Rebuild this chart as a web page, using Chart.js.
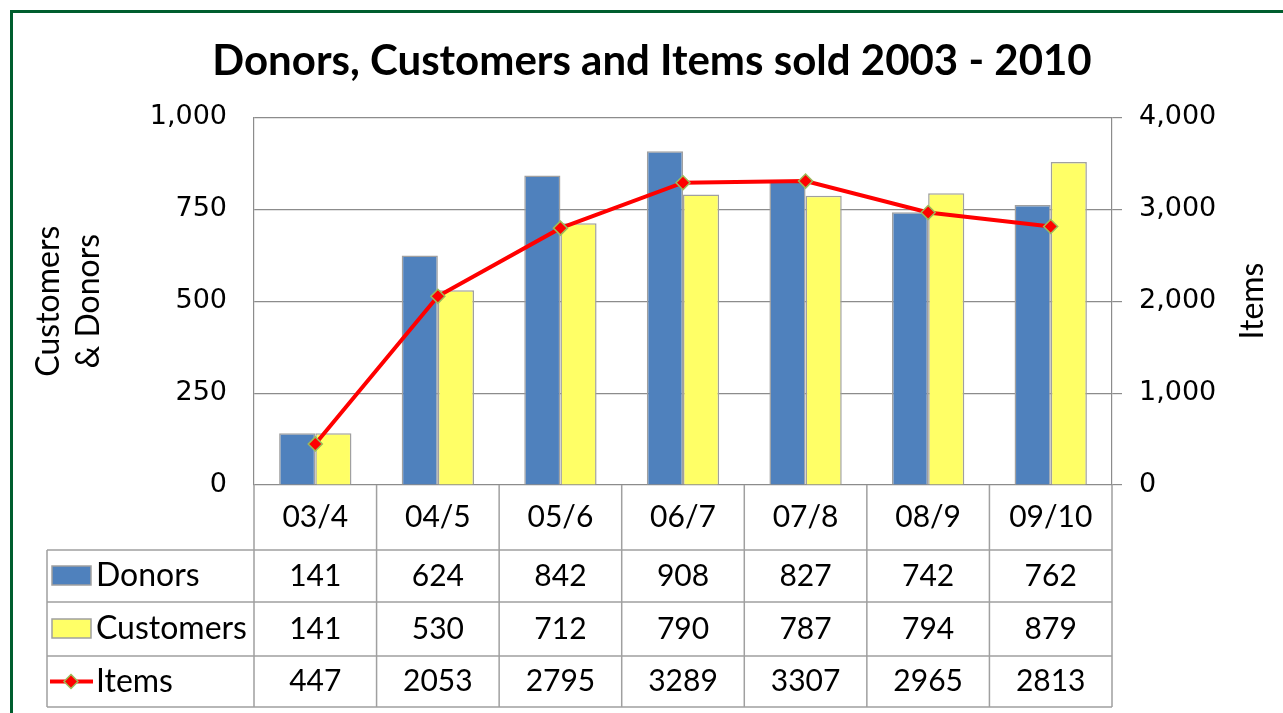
<!DOCTYPE html>
<html>
<head>
<meta charset="utf-8">
<script src="https://cdn.jsdelivr.net/npm/chart.js@4.4.1/dist/chart.umd.min.js"></script>
<style>
  html, body { margin: 0; padding: 0; background: #fff; }
  canvas { display: block; }
</style>
</head>
<body>
<canvas id="myChart" width="1283" height="713"></canvas>
<script>
// data
var categories = ['03/4', '04/5', '05/6', '06/7', '07/8', '08/9', '09/10'];
var donors = [141, 624, 842, 908, 827, 742, 762];
var customers = [141, 530, 712, 790, 787, 794, 879];
var items = [447, 2053, 2795, 3289, 3307, 2965, 2813];
var leftTicks = [0, 250, 500, 750, 1000];
var rightTicks = [0, 1000, 2000, 3000, 4000];

(()=>{
  var blue = '#4f81bd';
  var yellow = '#ffff66';
  var red = '#ff0000';
  var olive = '#9bbb59';
  var gridColor = '#8c8c8c';
  var tableColor = '#a0a0a0';
  var textFont = 'Lato, "Noto Sans", sans-serif';

  // table under the plot (data table + legend keys)
  var tablePlugin = {
    id: 'dataTable',
    beforeDraw: function(chart) {
      var ctx = chart.ctx;
      ctx.save();
      ctx.fillStyle = '#fff';
      ctx.fillRect(0, 0, chart.width, chart.height);
      ctx.strokeStyle = '#005e2e';
      ctx.lineWidth = 3;
      ctx.strokeRect(11.5, 11.5, chart.width + 20, chart.height + 20);
      ctx.restore();
    },
    afterDraw: function(chart) {
      var ctx = chart.ctx;
      var area = chart.chartArea;
      var xs = chart.scales.x;
      var n = categories.length;
      var colW = (area.right - area.left) / n;
      var edges = [area.bottom, 550, 602, 656, 707];
      var tableLeft = 47;
      var rows = [
        { name: 'Donors', values: donors, key: 'bar', color: blue },
        { name: 'Customers', values: customers, key: 'bar', color: yellow },
        { name: 'Items', values: items, key: 'line', color: red }
      ];

      ctx.save();
      ctx.strokeStyle = tableColor;
      ctx.lineWidth = 1.5;
      ctx.beginPath();
      // horizontal lines
      for (var r = 1; r < edges.length; r++) {
        ctx.moveTo(tableLeft, edges[r]);
        ctx.lineTo(area.right, edges[r]);
      }
      // vertical lines
      for (var i = 0; i <= n; i++) {
        var vx = i < n ? xs.getPixelForValue(i) - colW / 2 : xs.getPixelForValue(n - 1) + colW / 2;
        ctx.moveTo(vx, edges[0]);
        ctx.lineTo(vx, edges[edges.length - 1]);
      }
      ctx.moveTo(tableLeft, edges[1]);
      ctx.lineTo(tableLeft, edges[edges.length - 1]);
      ctx.stroke();

      ctx.fillStyle = '#000';
      ctx.font = '30px ' + textFont;
      ctx.textAlign = 'center';
      ctx.textBaseline = 'middle';
      // header: categories
      var hy = (edges[0] + edges[1]) / 2;
      categories.forEach(function(c, i) {
        ctx.fillText(c, xs.getPixelForValue(i), hy);
      });

      rows.forEach(function(row, r) {
        var cy = (edges[r + 1] + edges[r + 2]) / 2;
        ctx.font = '30px ' + textFont;
        ctx.textAlign = 'center';
        ctx.fillStyle = '#000';
        row.values.forEach(function(v, i) {
          ctx.fillText(String(v), xs.getPixelForValue(i), cy);
        });
        // legend key
        if (row.key === 'bar') {
          ctx.fillStyle = row.color;
          ctx.fillRect(52, cy - 10, 39, 19);
          ctx.strokeStyle = tableColor;
          ctx.lineWidth = 1.5;
          ctx.strokeRect(52, cy - 10, 39, 19);
        } else {
          ctx.strokeStyle = row.color;
          ctx.lineWidth = 4;
          ctx.beginPath();
          ctx.moveTo(50, cy);
          ctx.lineTo(93, cy);
          ctx.stroke();
          ctx.beginPath();
          ctx.moveTo(71, cy - 7);
          ctx.lineTo(78, cy);
          ctx.lineTo(71, cy + 7);
          ctx.lineTo(64, cy);
          ctx.closePath();
          ctx.fillStyle = red;
          ctx.fill();
          ctx.strokeStyle = olive;
          ctx.lineWidth = 1.5;
          ctx.stroke();
        }
        ctx.fillStyle = '#000';
        ctx.textAlign = 'left';
        ctx.font = '32px ' + textFont;
        ctx.fillText(row.name, 96, cy);
      });

      // right axis title, reads bottom to top
      ctx.font = '32px ' + textFont;
      ctx.translate(1253, 301);
      ctx.rotate(-Math.PI / 2);
      ctx.textAlign = 'center';
      ctx.fillText('Items', 0, 0);
      ctx.restore();
    }
  };

  var ctx = document.getElementById('myChart').getContext('2d');

  var myChart = new Chart(ctx, {
    data: {
      labels: categories,
      datasets: [
        {
          type: 'line',
          label: 'Items',
          data: items,
          yAxisID: 'y1',
          borderColor: red,
          borderWidth: 4,
          pointStyle: 'rectRot',
          pointRadius: 7,
          pointBackgroundColor: red,
          pointBorderColor: olive,
          pointBorderWidth: 1.5,
          tension: 0,
          order: 0
        },
        {
          type: 'bar',
          label: 'Donors',
          data: donors,
          yAxisID: 'y',
          backgroundColor: blue,
          borderColor: tableColor,
          borderWidth: 1.5,
          order: 1
        },
        {
          type: 'bar',
          label: 'Customers',
          data: customers,
          yAxisID: 'y',
          backgroundColor: yellow,
          borderColor: tableColor,
          borderWidth: 1.5,
          order: 1
        }
      ]
    },
    options: {
      responsive: false,
      animation: false,
      layout: { padding: { left: 21, right: 0, top: 11, bottom: 228 } },
      datasets: {
        bar: { barPercentage: 1, categoryPercentage: 0.59 }
      },
      plugins: {
        legend: { display: false },
        tooltip: { enabled: false },
        title: {
          display: true,
          text: 'Donors, Customers and Items sold 2003 - 2010',
          color: '#000',
          font: { family: textFont, size: 42, weight: 'bold', lineHeight: 1.2 },
          padding: { top: 25, bottom: 31 }
        }
      },
      scales: {
        x: {
          display: false,
          offset: true
        },
        y: {
          position: 'left',
          min: 0,
          max: 1000,
          afterBuildTicks: function(s) { s.ticks = leftTicks.map(function(v) { return { value: v }; }); },
          afterFit: function(s) { s.width = 233; },
          grid: { color: gridColor, lineWidth: 1.2, drawTicks: false },
          border: { display: true, color: gridColor, width: 1.2 },
          ticks: {
            color: '#000',
            padding: 27,
            font: { family: '"DejaVu Sans"', size: 27 }
          },
          title: {
            display: true,
            text: ['Customers', '& Donors'],
            color: '#000',
            font: { family: textFont, size: 32, lineHeight: '40px' },
            padding: { top: 8, bottom: 0 }
          }
        },
        y1: {
          position: 'right',
          min: 0,
          max: 4000,
          afterBuildTicks: function(s) { s.ticks = rightTicks.map(function(v) { return { value: v }; }); },
          afterFit: function(s) { s.width = 171; },
          grid: { drawOnChartArea: false, color: gridColor, lineWidth: 1.2, tickLength: 10 },
          border: { display: true, color: gridColor, width: 1.2 },
          ticks: {
            color: '#000',
            padding: 17,
            font: { family: '"DejaVu Sans"', size: 27 }
          }
        }
      }
    },
    plugins: [tablePlugin]
  });

  myChart.update();
})();
</script>
</body>
</html>
